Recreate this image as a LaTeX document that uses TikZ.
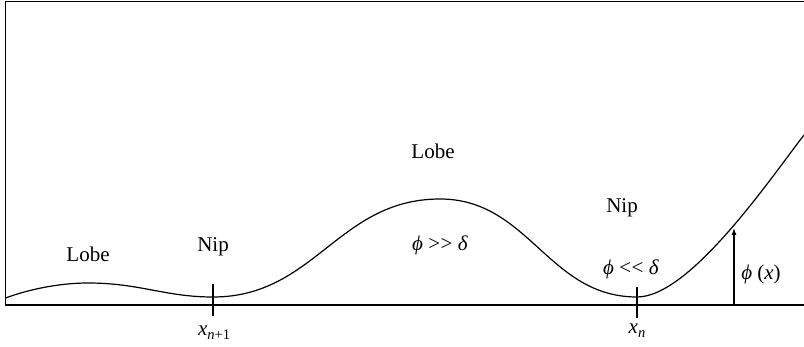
\documentclass[tikz,border=0pt]{standalone}
\usepackage{fontspec}
\setmainfont{Liberation Serif}
\usetikzlibrary{arrows.meta}
\newcommand{\subx}[1]{\raisebox{-0.45ex}{\fontsize{14.5}{14.5}\selectfont #1}}
\begin{document}
\begin{tikzpicture}[x=1pt,y=1pt,
  lbl/.style={font=\fontsize{21}{25}\selectfont, inner sep=0pt},
  frameline/.style={line width=1.4pt, black},
  curveline/.style={line width=1.2pt},
  tickline/.style={line width=1.1pt}]
\useasboundingbox (0,0) rectangle (804,346);
% frame
\coordinate (tl) at (5.5,344.5);
\coordinate (tr) at (804,344.5);
\coordinate (bl) at (5.5,41);
\coordinate (br) at (804,41);
\draw[frameline] (tr) -- (tl) -- (bl) -- (br);
% curve
\coordinate (c0) at (5.5,48);
\coordinate (c1) at (88,63);
\coordinate (c2) at (213,49);
\coordinate (c3) at (440,147);
\coordinate (c4) at (637,49);
\coordinate (c5) at (804,211);
\draw[curveline] (c0) .. controls (30,57) and (60,63) .. (c1)
  .. controls (140,63) and (165,49) .. (c2)
  .. controls (315,49) and (338,147) .. (c3)
  .. controls (529,147) and (548,49) .. (c4)
  .. controls (690,49) and (770,167) .. (c5);
% ticks
\coordinate (t1a) at (213,62);
\coordinate (t1b) at (213,30);
\coordinate (t2a) at (637,59);
\coordinate (t2b) at (637,28);
\draw[tickline] (t1a) -- (t1b);
\draw[tickline] (t2a) -- (t2b);
% arrow
\coordinate (ab) at (734,41);
\coordinate (at) at (734,118);
\draw[line width=1.1pt,-{Latex[length=7pt,width=5pt]}] (ab) -- (at);
% labels
\node[lbl] (lobe1) at (88,92) {Lobe};
\node[lbl] (nip1) at (213,99) {Nip};
\node[lbl] (lobe2) at (433,195) {Lobe};
\node[lbl] (nip2) at (622,138) {Nip};
\node[lbl] (gt) at (440,101) {\textit{ϕ} >\kern0.5pt> \textit{δ}};
\node[lbl] (lt) at (631,77) {\textit{ϕ} <\kern0.5pt< \textit{δ}};
\node[lbl] (phx) at (761,72) {\textit{ϕ} (\textit{x})};
\node[lbl] (xn1) at (214,13) {\textit{x}\subx{\textit{n}+1}};
\node[lbl] (xn) at (637,15) {\textit{x}\subx{\textit{n}}};
\end{tikzpicture}
\end{document}
